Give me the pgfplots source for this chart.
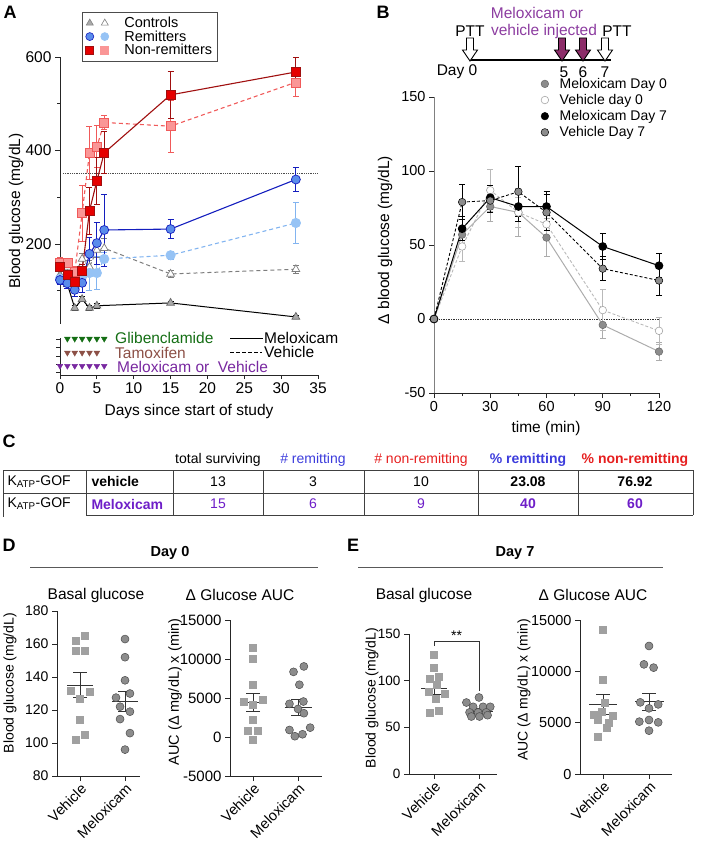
\documentclass[border=0pt]{standalone}
\usepackage{fontspec}
\setmainfont{Liberation Sans}
\usepackage{pgfplots}
\pgfplotsset{compat=1.18}

\definecolor{ctrlfill}{RGB}{170,170,170}
\definecolor{ctrlline}{RGB}{125,125,125}
\definecolor{remline}{RGB}{20,30,190}
\definecolor{remfill}{RGB}{90,140,235}
\definecolor{remlight}{RGB}{130,180,240}
\definecolor{remlightfill}{RGB}{150,195,245}
\definecolor{nrline}{RGB}{160,15,15}
\definecolor{nrfill}{RGB}{230,0,0}
\definecolor{nrlight}{RGB}{240,90,90}
\definecolor{nrlightfill}{RGB}{250,150,150}
\definecolor{glib}{RGB}{20,110,20}
\definecolor{tam}{RGB}{140,80,70}
\definecolor{melox}{RGB}{120,40,160}
\definecolor{arrowpurple}{RGB}{140,45,105}
\definecolor{injtext}{RGB}{140,60,160}
\definecolor{tblue}{RGB}{60,60,220}
\definecolor{tred}{RGB}{230,30,30}
\definecolor{tpurple}{RGB}{110,30,200}
\definecolor{sq}{RGB}{160,160,160}
\definecolor{circ}{RGB}{140,140,140}

\newcommand{\fs}[1]{\fontsize{#1}{#1}\selectfont}

\pgfplotsset{
  base/.style={scale only axis, clip=false, anchor=south west,
    tick align=outside,
    /pgf/number format/assume math mode=true,
    /pgf/number format/1000 sep={},
    scaled ticks=false,
    axis line style={black!85, line width=0.8pt},
    every tick/.style={black!85, line width=0.8pt},
    major tick length=5pt, minor tick length=3pt},
  eb/.style={/pgfplots/error bars/y dir=both, /pgfplots/error bars/y explicit,
    /pgfplots/error bars/error bar style={solid, line width=0.8pt},
    /pgfplots/error bars/error mark options={rotate=90, mark size=3pt, solid, line width=0.8pt}},
  sem/.style={black!80, line width=0.8pt, mark=none,
    /pgfplots/error bars/y dir=both, /pgfplots/error bars/y explicit,
    /pgfplots/error bars/error bar style={line width=0.8pt, black!80},
    /pgfplots/error bars/error mark options={rotate=90, mark size=7pt, line width=0.8pt, black!80}},
  sqs/.style={only marks, mark=square*, mark size=3.5pt, mark options={fill=sq, draw=sq}},
  crs/.style={only marks, mark=*, mark size=4pt, mark options={fill=circ, draw=black!70, line width=0.5pt}},
  mkleg/.style={only marks, legend image code/.code={\draw plot coordinates {(5pt,0pt)};}},
  catax/.style={base, axis lines*=left, xtick={0,1}, xticklabels={Vehicle,Meloxicam},
    xticklabel style={rotate=45, anchor=north east, font=\fs{14.5}, inner sep=1pt}},
}

\begin{document}
\begin{tikzpicture}[font=\fs{15}]
\path[use as bounding box] (0pt,0pt) rectangle (702pt,-845pt);

% ================= Panel A =================
\node[font=\bfseries\fs{18}] at (10pt,-12pt) {A};
\begin{axis}[base, at={(60pt,-323.5pt)}, width=258pt, height=266.5pt,
  xmin=0, xmax=35, ymin=30, ymax=600,
  axis x line=none, axis y line*=left,
  ytick={200,400,600}, minor ytick={100,300,500},
  yticklabel style={font=\fs{15.5}},
  legend style={at={(0.085,1.17)}, anchor=north west, draw=black!70, line width=0.7pt,
    font=\fs{14.5}, inner sep=3.5pt, row sep=-1.5pt, fill=white, nodes={inner sep=1.5pt},
    /tikz/every odd column/.append style={column sep=14pt}},
  legend cell align=left]
\addlegendimage{legend image code/.code={
  \draw plot[mark=triangle*, mark size=4pt, mark options={fill=ctrlfill, draw=black!50, line width=0.6pt}] coordinates {(5pt,0pt)};
  \draw plot[mark=triangle*, mark size=4pt, mark options={fill=white, draw=ctrlline, line width=0.6pt}] coordinates {(20pt,0pt)};}}
\addlegendentry{Controls}
\addlegendimage{legend image code/.code={
  \draw plot[mark=*, mark size=4pt, mark options={fill=remfill, draw=remline, line width=0.6pt}] coordinates {(5pt,0pt)};
  \draw plot[mark=*, mark size=4pt, mark options={fill=remlightfill, draw=remlightfill, line width=0.6pt}] coordinates {(20pt,0pt)};}}
\addlegendentry{Remitters}
\addlegendimage{legend image code/.code={
  \draw plot[mark=square*, mark size=4pt, mark options={fill=nrfill, draw=nrline, line width=0.6pt}] coordinates {(5pt,0pt)};
  \draw plot[mark=square*, mark size=4pt, mark options={fill=nrlightfill, draw=nrlightfill, line width=0.6pt}] coordinates {(20pt,0pt)};}}
\addlegendentry{Non-remitters}

\addplot[densely dotted, black!70, line width=0.8pt, forget plot] coordinates {(0.4,350)(35,350)};
% Controls vehicle
\addplot[ctrlline, dash pattern=on 4pt off 3pt, line width=1pt, mark=triangle*, mark size=4.5pt,
  mark options={solid, fill=white, draw=ctrlline, line width=0.7pt}, eb, forget plot] coordinates {
  (0,161) +- (0,10) (1,151) +- (0,10) (2,134) +- (0,10) (3,168) +- (0,12) (4,151) +- (0,15)
  (5,187) +- (0,15) (6,191) +- (0,20) (15,136) +- (0,8) (32,146) +- (0,8)};
% Controls meloxicam
\addplot[black, line width=1pt, mark=triangle*, mark size=4.5pt,
  mark options={fill=ctrlfill, draw=black!60, line width=0.7pt}, eb, forget plot] coordinates {
  (0,134) +- (0,8) (1,114) +- (0,8) (2,63) +- (0,5) (3,82) +- (0,5) (4,63) +- (0,5)
  (5,68) +- (0,5) (15,74) +- (0,4) (32,44) +- (0,4)};
% Remitters vehicle
\addplot[remlight, dash pattern=on 4pt off 3pt, line width=1.1pt, mark=*, mark size=4.5pt,
  mark options={solid, fill=remlightfill, draw=remlightfill}, eb, forget plot] coordinates {
  (0,126) +- (0,10) (1,120) +- (0,10) (2,106) +- (0,12) (3,130) +- (0,20) (4,138) +- (0,38)
  (5,138) +- (0,35) (6,168) +- (0,15) (15,176) +- (0,8) (32,245) +- (0,43)};
% Remitters meloxicam
\addplot[remline, line width=1.1pt, mark=*, mark size=4.5pt,
  mark options={fill=remfill, draw=remline, line width=0.7pt}, eb, forget plot] coordinates {
  (0,123) +- (0,10) (1,116) +- (0,10) (2,102) +- (0,15) (3,117) +- (0,20) (4,179) +- (0,35)
  (5,202) +- (0,45) (6,230) +- (0,77) (15,232) +- (0,20) (32,338) +- (0,25)};
% Non-remitters vehicle
\addplot[nrlight, dash pattern=on 4pt off 3pt, line width=1.1pt, mark=square*, mark size=4.5pt,
  mark options={solid, fill=nrlightfill, draw=nrlight, line width=0.5pt}, eb, forget plot] coordinates {
  (0,160) +- (0,12) (1,160) +- (0,10) (2,140) +- (0,12) (3,266) +- (0,60) (4,395) +- (0,57)
  (5,408) +- (0,45) (6,460) +- (0,15) (15,452) +- (0,56) (32,546) +- (0,30)};
% Non-remitters meloxicam
\addplot[nrline, line width=1.1pt, mark=square*, mark size=4.5pt,
  mark options={fill=nrfill, draw=nrline, line width=0.7pt}, eb, forget plot] coordinates {
  (0,151) +- (0,10) (1,134) +- (0,10) (2,119) +- (0,12) (3,142) +- (0,15) (4,271) +- (0,50)
  (5,335) +- (0,50) (6,395) +- (0,45) (15,519) +- (0,50) (32,568) +- (0,32)};
\end{axis}

% treatment schedule axis
\begin{axis}[base, at={(60pt,-375pt)}, width=258pt, height=37pt,
  xmin=0, xmax=35, ymin=0, ymax=4.5, axis lines*=left,
  xtick={0,5,...,35}, xticklabel style={font=\fs{15.5}},
  ytick={0.3,1.3,2.3,3.3,4.3}, yticklabels={}, major tick length=4pt]
\addplot[only marks, mark=triangle*, mark size=3.3pt, mark options={rotate=180, fill=glib, draw=glib}]
  coordinates {(1,4.4)(2,4.4)(3,4.4)(4,4.4)(5,4.4)(6,4.4)};
\addplot[only marks, mark=triangle*, mark size=3.3pt, mark options={rotate=180, fill=tam, draw=tam}]
  coordinates {(1,2.7)(2,2.7)(3,2.7)(4,2.7)(5,2.7)};
\addplot[only marks, mark=triangle*, mark size=3.3pt, mark options={rotate=180, fill=melox, draw=melox}]
  coordinates {(0,1.1)(1,1.1)(2,1.1)(3,1.1)(4,1.1)(5,1.1)(6,1.1)};
\end{axis}
\node[anchor=west, text=glib, font=\fs{15.5}, inner sep=0pt] at (115pt,-338pt) {Glibenclamide};
\node[anchor=west, text=tam, font=\fs{15.5}, inner sep=0pt] at (115pt,-353pt) {Tamoxifen};
\node[anchor=west, text=melox, font=\fs{15.5}, inner sep=0pt] at (117pt,-367pt) {Meloxicam or\ \ Vehicle};
\draw[black, line width=0.9pt] (230pt,-338pt) -- (263pt,-338pt);
\node[anchor=west, font=\fs{15.5}, inner sep=0pt] at (264pt,-338pt) {Meloxicam};
\draw[black, line width=0.9pt, dash pattern=on 3.5pt off 2.5pt] (230pt,-352pt) -- (262pt,-352pt);
\node[anchor=west, font=\fs{15.5}, inner sep=0pt] at (264pt,-352pt) {Vehicle};
\node[rotate=90, font=\fs{15.5}] at (16pt,-211pt) {Blood glucose (mg/dL)};
\node[font=\fs{15.5}] at (189pt,-411pt) {Days since start of study};

% ================= Panel B =================
\node[font=\bfseries\fs{18}] at (383pt,-12pt) {B};
\node[text=injtext, font=\fs{15.5}] at (537pt,-13pt) {Meloxicam or};
\node[text=injtext, font=\fs{15.5}] at (544pt,-31pt) {vehicle injected};
\node[font=\fs{15.5}] at (470pt,-31pt) {PTT};
\node[font=\fs{15.5}] at (617pt,-31pt) {PTT};
\draw[line width=1.4pt] (470pt,-60pt) -- (611pt,-60pt);
\foreach \xx/\cc in {470/white, 562/arrowpurple, 583/arrowpurple, 605/white} {
  \draw[black, line width=0.9pt, fill=\cc, line join=miter]
    ({\xx pt-3.5pt},-38pt) -- ({\xx pt+3.5pt},-38pt) -- ({\xx pt+3.5pt},-50pt) -- ({\xx pt+7.5pt},-50pt)
    -- (\xx pt,-61pt) -- ({\xx pt-7.5pt},-50pt) -- ({\xx pt-3.5pt},-50pt) -- cycle;
}
\node[font=\fs{15.5}] at (457pt,-72pt) {Day 0};
\node[font=\fs{15.5}] at (564pt,-72pt) {5};
\node[font=\fs{15.5}] at (583pt,-72pt) {6};
\node[font=\fs{15.5}] at (605pt,-72pt) {7};

\begin{axis}[base, at={(434pt,-393pt)}, width=225pt, height=296pt,
  xmin=0, xmax=120, ymin=-50, ymax=150, axis lines*=left,
  y axis line style={gray}, 
  xtick={0,30,60,90,120}, minor xtick={15,45,75,105}, ytick={-50,0,50,100,150},
  tick label style={font=\fs{14.5}},
  legend style={at={(0.475,1.068)}, anchor=north west, draw=none, fill=none,
    font=\fs{14}, inner sep=0pt, row sep=2.5pt, nodes={inner sep=1pt},
    /tikz/every odd column/.append style={column sep=10pt}},
  legend cell align=left]
\addlegendimage{mkleg, mark=*, mark size=3.8pt, mark options={fill=circ, draw=black!60, line width=0.5pt}}
\addlegendentry{Meloxicam Day 0}
\addlegendimage{mkleg, mark=*, mark size=3.8pt, mark options={fill=white, draw=gray!70, line width=0.6pt}}
\addlegendentry{Vehicle day 0}
\addlegendimage{mkleg, mark=*, mark size=3.8pt, mark options={fill=black, draw=black}}
\addlegendentry{Meloxicam Day 7}
\addlegendimage{mkleg, mark=*, mark size=3.8pt, mark options={fill=circ, draw=black, line width=0.5pt}}
\addlegendentry{Vehicle Day 7}

\addplot[densely dotted, black!80, line width=0.7pt, forget plot] coordinates {(0,0)(120,0)};
% Meloxicam Day 0
\addplot[gray!65, line width=1pt, mark=*, mark size=3.8pt,
  mark options={fill=circ, draw=black!60, line width=0.5pt}, eb, forget plot] coordinates {
  (0,0) +- (0,0) (15,57) +- (0,10) (30,76) +- (0,10) (45,72) +- (0,16) (60,55) +- (0,13)
  (90,-4) +- (0,9) (120,-22) +- (0,6)};
% Vehicle day 0
\addplot[gray!55, line width=0.9pt, dash pattern=on 3pt off 2pt, mark=*, mark size=3.8pt,
  mark options={solid, fill=white, draw=gray!70, line width=0.6pt}, eb, forget plot] coordinates {
  (0,0) +- (0,0) (15,49) +- (0,10) (30,87) +- (0,14) (45,72) +- (0,10) (60,64) +- (0,10)
  (90,6) +- (0,14) (120,-8) +- (0,9)};
% Meloxicam Day 7
\addplot[black, line width=1pt, mark=*, mark size=3.8pt,
  mark options={fill=black, draw=black}, eb, forget plot] coordinates {
  (0,0) +- (0,0) (15,61) +- (0,8) (30,82) +- (0,8) (45,76) +- (0,10) (60,76) +- (0,10)
  (90,49) +- (0,9) (120,36) +- (0,8)};
% Vehicle Day 7
\addplot[black, line width=0.9pt, dash pattern=on 3pt off 2pt, mark=*, mark size=3.8pt,
  mark options={solid, fill=circ, draw=black, line width=0.5pt}, eb, forget plot] coordinates {
  (0,0) +- (0,0) (15,79) +- (0,12) (30,80) +- (0,8) (45,86) +- (0,17) (60,72) +- (0,12)
  (90,34) +- (0,8) (120,26) +- (0,10)};
\end{axis}
\node[rotate=90, font=\fs{15.5}] at (385pt,-240pt) {Δ blood glucose (mg/dL)};
\node[font=\fs{15.5}] at (546pt,-428pt) {time (min)};

% ================= Panel C =================
\node[font=\bfseries\fs{18}] at (9pt,-441pt) {C};
\begin{scope}[font=\fs{14}]
\node at (218pt,-460pt) {total surviving};
\node[text=tblue] at (313pt,-460pt) {\# remitting};
\node[text=tred] at (421pt,-460pt) {\# non-remitting};
\node[text=tblue, font=\bfseries\fs{14}] at (528pt,-460pt) {\% remitting};
\node[text=tred, font=\bfseries\fs{14}] at (635pt,-460pt) {\% non-remitting};
\draw[black!75, line width=0.8pt] (3pt,-470pt) -- (693pt,-470pt);
\draw[black!75, line width=0.8pt] (3pt,-493pt) -- (693pt,-493pt);
\draw[black!75, line width=0.8pt] (86pt,-515pt) -- (693pt,-515pt);
\draw[black!75, line width=0.8pt] (3pt,-470pt) -- (3pt,-517pt);
\foreach \xx in {86,173,263,364,478,578,693} {\draw[black!75, line width=0.8pt] (\xx pt,-470pt) -- (\xx pt,-515pt);}
\node[anchor=west] at (4pt,-481.5pt) {K\textsubscript{ATP}-GOF};
\node[anchor=west, font=\bfseries\fs{14}] at (88pt,-481.5pt) {vehicle};
\node at (218pt,-481.5pt) {13};
\node at (313pt,-481.5pt) {3};
\node at (421pt,-481.5pt) {10};
\node[font=\bfseries\fs{14}] at (528pt,-481.5pt) {23.08};
\node[font=\bfseries\fs{14}] at (635pt,-481.5pt) {76.92};
\node[anchor=west] at (4pt,-504pt) {K\textsubscript{ATP}-GOF};
\node[anchor=west, text=tpurple, font=\bfseries\fs{14}] at (88pt,-504pt) {Meloxicam};
\node[text=tpurple] at (218pt,-504pt) {15};
\node[text=tpurple] at (313pt,-504pt) {6};
\node[text=tpurple] at (421pt,-504pt) {9};
\node[text=tpurple, font=\bfseries\fs{14}] at (528pt,-504pt) {40};
\node[text=tpurple, font=\bfseries\fs{14}] at (635pt,-504pt) {60};
\end{scope}

% ================= Panel D =================
\node[font=\bfseries\fs{18}] at (9pt,-545pt) {D};
\node[font=\bfseries\fs{14.5}] at (170pt,-553pt) {Day 0};
\draw[black!65, line width=0.8pt] (30pt,-567pt) -- (318pt,-567pt);
\node[font=\fs{15.5}] at (96pt,-595pt) {Basal glucose};
\node[font=\fs{15.5}] at (240pt,-595pt) {Δ Glucose AUC};
\node[rotate=90, font=\fs{14}] at (10pt,-683pt) {Blood glucose (mg/dL)};
\node[rotate=90, font=\fs{14.5}] at (175pt,-692pt) {AUC (Δ mg/dL) x (min)};

\begin{axis}[catax, at={(57pt,-776pt)}, width=83pt, height=165pt,
  xmin=-0.511, xmax=1.333, ymin=80, ymax=180, ytick={80,100,...,180},
  yticklabel style={font=\fs{14}}]
\addplot[sqs] coordinates {(0.096,165)(-0.089,162)(-0.089,156)(0.11,156)(-0.2,132)(0.21,131)(0,127)(0,114)(0.096,105)(-0.089,102)};
\addplot[crs] coordinates {(1,163)(1,152)(1,138)(0.8,127.5)(1.11,130)(0.89,122)(1.11,119)(0.89,114.5)(1.11,106)(1,96)};
\addplot[black!80, line width=0.8pt] coordinates {(-0.28,135)(0.28,135)};
\addplot[sem] coordinates {(0,135) +- (0,7.5)};
\addplot[black!80, line width=0.8pt] coordinates {(0.71,125)(1.29,125)};
\addplot[sem] coordinates {(1,125) +- (0,6)};
\end{axis}

\begin{axis}[catax, at={(230pt,-776pt)}, width=92pt, height=156pt,
  xmin=-0.511, xmax=1.533, ymin=-5000, ymax=15000, ytick={-5000,0,5000,10000,15000},
  yticklabel style={font=\fs{15}}]
\addplot[sqs] coordinates {(0,11400)(0,10100)(0,6670)(-0.2,4540)(0.21,4750)(0,4110)(0,2190)(-0.11,800)(0.11,800)(0,-400)};
\addplot[crs] coordinates {(1.13,9050)(0.9,8350)(1.03,6700)(0.81,4250)(1.12,4550)(1.0,3600)(1.13,3050)(0.81,900)(1.27,1200)(1.1,350)(0.93,100)};
\addplot[black!80, line width=0.8pt] coordinates {(-0.3,4450)(0.3,4450)};
\addplot[sem] coordinates {(0,4450) +- (0,1200)};
\addplot[black!80, line width=0.8pt] coordinates {(0.7,3800)(1.32,3800)};
\addplot[sem] coordinates {(1,3800) +- (0,1000)};
\end{axis}

% ================= Panel E =================
\node[font=\bfseries\fs{18}] at (353pt,-545pt) {E};
\node[font=\bfseries\fs{14.5}] at (515pt,-553pt) {Day 7};
\draw[black!65, line width=0.8pt] (358pt,-567pt) -- (663pt,-567pt);
\node[font=\fs{15.5}] at (424pt,-595pt) {Basal glucose};
\node[font=\fs{15.5}] at (593pt,-595pt) {Δ Glucose AUC};
\node[rotate=90, font=\fs{14}] at (372pt,-698pt) {Blood glucose (mg/dL)};
\node[rotate=90, font=\fs{14}] at (524pt,-690pt) {AUC (Δ mg/dL) x (min)};

\begin{axis}[catax, at={(409pt,-774pt)}, width=88pt, height=140pt,
  xmin=-0.556, xmax=1.4, ymin=0, ymax=150, ytick={0,50,100,150},
  yticklabel style={font=\fs{13.5}}]
\addplot[sqs] coordinates {(0,128)(0,114)(-0.1,102)(0.1,104)(0.07,96)(-0.11,88)(0.23,86)(0.04,81)(-0.1,66)(0.11,68)};
\addplot[crs] coordinates {(1,82)(0.72,76.6)(0.87,72)(1.09,72)(1.25,72)(0.79,66)(0.98,66)(1.16,66)(0.83,61.6)(1.01,61.6)(1.19,63)};
\addplot[black!80, line width=0.8pt] coordinates {(-0.28,92)(0.28,92)};
\addplot[sem] coordinates {(0,92) +- (0,6.5)};
\addplot[black!80, line width=0.8pt] coordinates {(0.7,67.5)(1.3,67.5)};
\addplot[sem] coordinates {(1,67.5) +- (0,2.5)};
\draw[black!80, line width=0.8pt] (axis cs:0,137) -- (axis cs:0,142) -- (axis cs:1,142) -- (axis cs:1,89);
\node[anchor=south, inner sep=1pt, font=\fs{14}] at (axis cs:0.5,142) {**};
\end{axis}

\begin{axis}[catax, at={(580pt,-774pt)}, width=92pt, height=154pt,
  xmin=-0.5, xmax=1.5, ymin=0, ymax=15000, ytick={0,5000,10000,15000},
  yticklabel style={font=\fs{14.5}}]
\addplot[sqs] coordinates {(0,14100)(0,9150)(0.04,6950)(-0.02,6070)(-0.21,5750)(0.2,5650)(-0.11,5260)(0.09,4550)(-0.11,3640)(0.12,5000)};
\addplot[crs] coordinates {(1,12470)(0.89,10680)(1.1,10360)(0.81,6980)(1.2,6780)(1,6400)(0.79,5100)(1,5260)(1.2,5030)(1,4220)};
\addplot[black!80, line width=0.8pt] coordinates {(-0.3,6780)(0.3,6780)};
\addplot[sem] coordinates {(0,6780) +- (0,950)};
\addplot[black!80, line width=0.8pt] coordinates {(0.7,7040)(1.32,7040)};
\addplot[sem] coordinates {(1,7040) +- (0,850)};
\end{axis}

\end{tikzpicture}
\end{document}
